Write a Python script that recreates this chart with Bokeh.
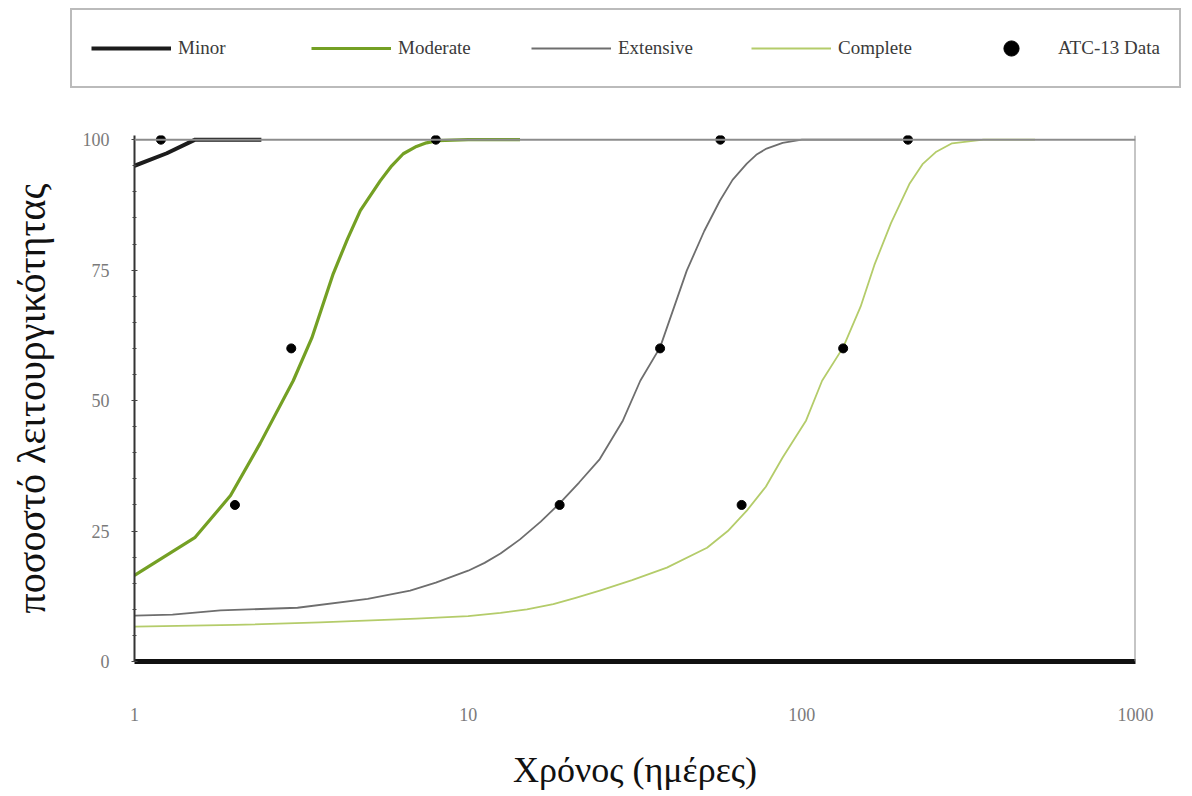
from bokeh.plotting import figure
from bokeh.layouts import column
from bokeh.models import Range1d, FixedTicker, Span, Legend, LegendItem, BasicTickFormatter
from bokeh.embed import file_html
from bokeh.resources import INLINE

# Restoration curves: time (days, log axis) vs. percent functionality
minor_days = [1.0, 1.25, 1.52, 1.8, 2.1, 2.4]
minor_pct = [95.0, 97.4, 100.0, 100.0, 100.0, 100.0]

moderate_days = [1.0, 1.52, 1.94, 2.38, 2.99, 3.4, 3.94, 4.35, 4.75, 5.45, 5.9, 6.39, 7.0,
                 7.5, 8.1, 10.0, 14.3]
moderate_pct = [16.5, 23.8, 31.8, 41.8, 53.8, 62.0, 74.3, 81.0, 86.4, 92.1, 95.0, 97.3, 98.7,
                99.4, 99.8, 100.0, 100.0]

extensive_days = [1.0, 1.3, 1.81, 3.08, 5.0, 6.7, 8.0, 10.0, 11.2, 12.5, 14.3, 16.5, 18.8,
                  21.5, 24.8, 29.1, 32.8, 37.6, 45.2, 51.0, 56.8, 62.0, 68.4, 73.0, 78.4,
                  87.6, 100.0, 150.0, 200.0]
extensive_pct = [8.8, 9.0, 9.8, 10.3, 12.0, 13.6, 15.1, 17.4, 18.9, 20.7, 23.4, 26.8, 30.3,
                 34.3, 38.8, 46.2, 53.8, 60.2, 74.9, 82.5, 88.3, 92.3, 95.4, 97.1, 98.3,
                 99.4, 100.0, 100.0, 100.0]

complete_days = [1.0, 2.0, 3.6, 7.0, 10.0, 12.5, 15.0, 18.0, 21.0, 24.8, 31.0, 39.4, 52.0,
                 60.0, 68.4, 78.0, 87.6, 103.0, 115.0, 133.0, 150.0, 165.0, 185.0, 210.0,
                 230.0, 253.0, 282.0, 350.0, 500.0]
complete_pct = [6.7, 7.0, 7.5, 8.2, 8.7, 9.3, 10.0, 11.0, 12.2, 13.6, 15.6, 18.0, 21.8,
                25.0, 28.9, 33.5, 39.1, 46.2, 53.8, 60.2, 68.0, 76.0, 84.0, 91.5,
                95.3, 97.7, 99.3, 100.0, 100.0]

atc_days = [1.2, 2.0, 2.95, 8.0, 18.8, 37.6, 57.0, 66.0, 133.0, 208.0]
atc_pct = [100, 30, 60, 100, 30, 60, 100, 30, 60, 100]

x_ticks = [1, 10, 100, 1000]
y_ticks = [0, 25, 50, 75, 100]
y_minor_ticks = list(range(0, 101, 5))

SERIF = "Liberation Serif"

# line styles shared by the chart and its key
STYLES = {
    "Minor": dict(line_color="#1c1c1c", line_width=4),
    "Moderate": dict(line_color="#74a024", line_width=3.2),
    "Extensive": dict(line_color="#6e6e6e", line_width=1.8),
    "Complete": dict(line_color="#b4cc6a", line_width=1.8),
}
DOT = dict(size=9, marker="circle", fill_color="black", line_color="black")

# ---- main chart ----
p = figure(
    width=1192, height=696,
    x_axis_type="log",
    x_range=Range1d(1, 1000), y_range=Range1d(0, 100.8),
    output_backend="svg", toolbar_location=None,
    min_border_left=134, min_border_right=57, min_border_top=35, min_border_bottom=135,
    background_fill_color="white", border_fill_color="white",
)
p.frame_align = False
p.outline_line_color = None
p.grid.visible = False

# plot frame: top edge at 100 % and right edge at 1000 days
p.add_layout(Span(location=100, dimension="width", line_color="#8c8c8c", line_width=2))
p.add_layout(Span(location=1000, dimension="height", line_color="#8c8c8c", line_width=2))

p.line(minor_days, minor_pct, line_join="round", **STYLES["Minor"])
p.line(moderate_days, moderate_pct, line_join="round", **STYLES["Moderate"])
p.line(extensive_days, extensive_pct, line_join="round", **STYLES["Extensive"])
p.line(complete_days, complete_pct, line_join="round", **STYLES["Complete"])
p.scatter(atc_days, atc_pct, **DOT)

xa = p.xaxis[0]
xa.ticker = FixedTicker(ticks=x_ticks)
xa.formatter = BasicTickFormatter()
xa.axis_line_color = "#111111"
xa.axis_line_width = 5
xa.major_tick_line_color = None
xa.minor_tick_line_color = None
xa.major_label_standoff = 40
xa.major_label_text_font = SERIF
xa.major_label_text_font_size = "18px"
xa.major_label_text_color = "#7a7a7a"
xa.axis_label = "Χρόνος (ημέρες)"
xa.axis_label_text_font = SERIF
xa.axis_label_text_font_style = "normal"
xa.axis_label_text_font_size = "36px"
xa.axis_label_text_color = "#111111"
xa.axis_label_standoff = 26

ya = p.yaxis[0]
ya.ticker = FixedTicker(ticks=y_ticks, minor_ticks=y_minor_ticks)
ya.axis_line_color = "#333333"
ya.axis_line_width = 2
ya.major_tick_in = 3
ya.major_tick_out = 3
ya.minor_tick_in = 2
ya.minor_tick_out = 2
ya.major_tick_line_color = "#444444"
ya.minor_tick_line_color = "#444444"
ya.major_label_standoff = 22
ya.major_label_text_font = SERIF
ya.major_label_text_font_size = "18px"
ya.major_label_text_color = "#7a7a7a"
ya.axis_label = "ποσοστό λειτουργικότητας"
ya.axis_label_text_font = SERIF
ya.axis_label_text_font_style = "normal"
ya.axis_label_text_font_size = "40px"
ya.axis_label_text_color = "#111111"
ya.axis_label_standoff = 26

# ---- key strip above the chart ----
k = figure(
    width=1192, height=100,
    x_range=Range1d(0, 1), y_range=Range1d(0, 1),
    output_backend="svg", toolbar_location=None,
    x_axis_location=None, y_axis_location=None,
    min_border=0, min_border_left=0, min_border_right=0, min_border_top=0, min_border_bottom=0,
    background_fill_color="white", border_fill_color="white",
)
k.frame_align = False
k.outline_line_color = None
k.grid.visible = False

# key samples: one point each, kept outside the visible range so only the key shows them
off_x = [-5.0, -4.0]
off_y = [-5.0, -5.0]
key_items = []
for name in ["Minor", "Moderate", "Extensive", "Complete"]:
    r = k.line(off_x, off_y, **STYLES[name])
    key_items.append(LegendItem(label=name, renderers=[r]))
r_dot = k.scatter(off_x[:1], off_y[:1], **DOT)
key_items.append(LegendItem(label="ATC-13 Data", renderers=[r_dot]))

legend = Legend(
    items=key_items,
    orientation="horizontal",
    location=(70, 12),
    padding=19, margin=0,
    glyph_width=80, glyph_height=38,
    label_width=102, label_height=38,
    label_standoff=7, spacing=31,
    label_text_font=SERIF, label_text_font_size="19px", label_text_color="#3a3a3a",
    border_line_color="#777777", border_line_width=2.5,
    background_fill_color="white", background_fill_alpha=1.0,
)
k.add_layout(legend)

layout = column(k, p, spacing=0)
open("out.html", "w").write(file_html(layout, INLINE))
